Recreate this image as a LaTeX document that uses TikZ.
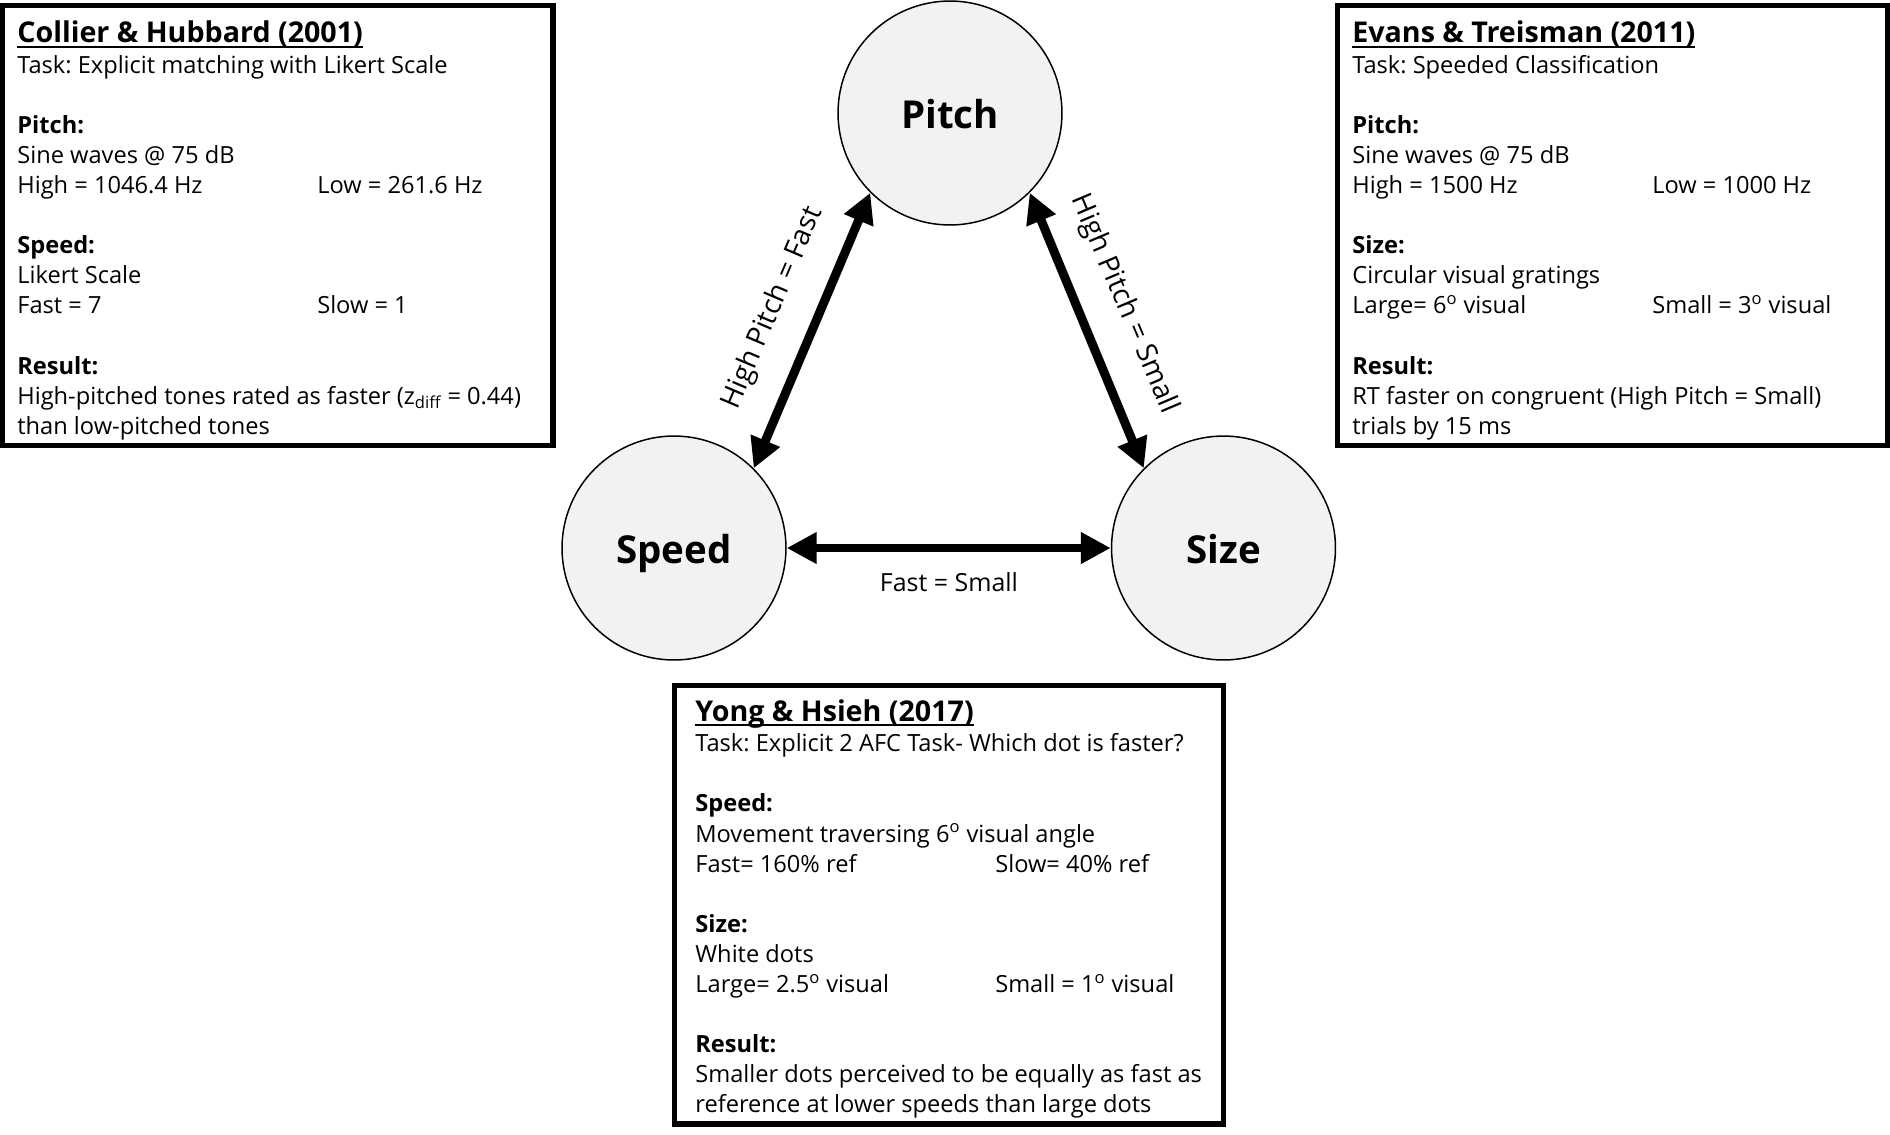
\documentclass[tikz,border=0pt]{standalone}
\usepackage{fontspec}
\setmainfont{Open Sans}
\usetikzlibrary{arrows.meta}
\definecolor{circfill}{HTML}{F2F2F2}
\frenchspacing
\newcommand{\twocol}[2]{\makebox[6cm][l]{#1}#2}
\newcommand{\boxtitle}[1]{{\fontsize{16.3}{17.13}\selectfont\bfseries\setbox0=\hbox{#1}\leavevmode\rlap{\vrule width\wd0 height -1.9pt depth 3.0pt}\box0}}
\newcommand{\blankline}{\\[17.13pt]}
\begin{document}
\begin{tikzpicture}[x=0.02cm,y=-0.02cm,
  concept/.style={circle, draw=black, line width=0.85pt, fill=circfill, minimum size=4.48cm, inner sep=0pt, text height=17.9pt, text depth=0pt, font=\fontsize{21.9}{26}\selectfont\bfseries},
  studybox/.style={draw=black, line width=3.1pt, inner sep=0pt, minimum height=8.8cm},
  bodytext/.style={anchor=north west, align=left, inner sep=0pt, font=\fontsize{13.45}{17.13}\selectfont\frenchspacing},
  link/.style={line width=5.1pt, {Triangle[length=0.6cm,width=0.6cm]}-{Triangle[length=0.6cm,width=0.6cm]}},
  linklabel/.style={font=\fontsize{14.2}{16}\selectfont, inner sep=0pt},
  slantlabel/.style={font=\fontsize{16}{18}\selectfont, inner sep=0pt}
]
\useasboundingbox (0,0) rectangle (1890,1134);

% study boxes
\node[studybox, minimum width=11.01cm] (boxA) at (277.75,225.5) {};
\node[studybox, minimum width=11cm] (boxB) at (1612.5,225.5) {};
\node[studybox, minimum width=10.98cm, minimum height=8.77cm] (boxC) at (949,904.75) {};

\node[bodytext] (textA) at (17,20.5) {\boxtitle{Collier \& Hubbard (2001)}\\[0.01cm]
Task: Explicit matching with Likert Scale\blankline
\textbf{Pitch:}\\
Sine waves @ 75 dB\\
\twocol{High = 1046.4 Hz}{Low = 261.6 Hz}\blankline
\textbf{Speed:}\\
Likert Scale\\
\twocol{Fast = 7}{Slow = 1}\blankline
\textbf{Result:}\\
High-pitched tones rated as faster (z\textsubscript{diff} = 0.44)\\
than low-pitched tones};

\node[bodytext] (textB) at (1352,20.5) {\boxtitle{Evans \& Treisman (2011)}\\[0.01cm]
Task: Speeded Classification\blankline
\textbf{Pitch:}\\
Sine waves @ 75 dB\\
\twocol{High = 1500 Hz}{Low = 1000 Hz}\blankline
\textbf{Size:}\\
Circular visual gratings\\
\twocol{Large= 6\textsuperscript{o} visual}{Small = 3\textsuperscript{o} visual}\blankline
\textbf{Result:}\\
RT faster on congruent (High Pitch = Small)\\
trials by 15 ms};

\node[bodytext] (textC) at (695,699) {\boxtitle{Yong \& Hsieh (2017)}\\[0.01cm]
Task: Explicit 2 AFC Task- Which dot is faster?\blankline
\textbf{Speed:}\\
Movement traversing 6\textsuperscript{o} visual angle\\
\twocol{Fast= 160\% ref}{Slow= 40\% ref}\blankline
\textbf{Size:}\\
White dots\\
\twocol{Large= 2.5\textsuperscript{o} visual}{Small = 1\textsuperscript{o} visual}\blankline
\textbf{Result:}\\
Smaller dots perceived to be equally as fast as\\
reference at lower speeds than large dots};

% concept circles
\node[concept] (pitch) at (950,113) {Pitch};
\node[concept] (speed) at (674,548) {Speed};
\node[concept] (size) at (1223.5,548) {Size};

% links
\draw[link] (speed.45) -- (pitch.225);
\draw[link] (pitch.-45) -- (size.135);
\draw[link] (speed) -- (size);

\node[slantlabel, rotate=67] (lblPF) at (773,308) {High Pitch = Fast};
\node[slantlabel, rotate=-67] (lblPS) at (1124,304) {High Pitch = Small};
\node[linklabel] (lblFS) at (949,582) {Fast = Small};
\end{tikzpicture}
\end{document}
